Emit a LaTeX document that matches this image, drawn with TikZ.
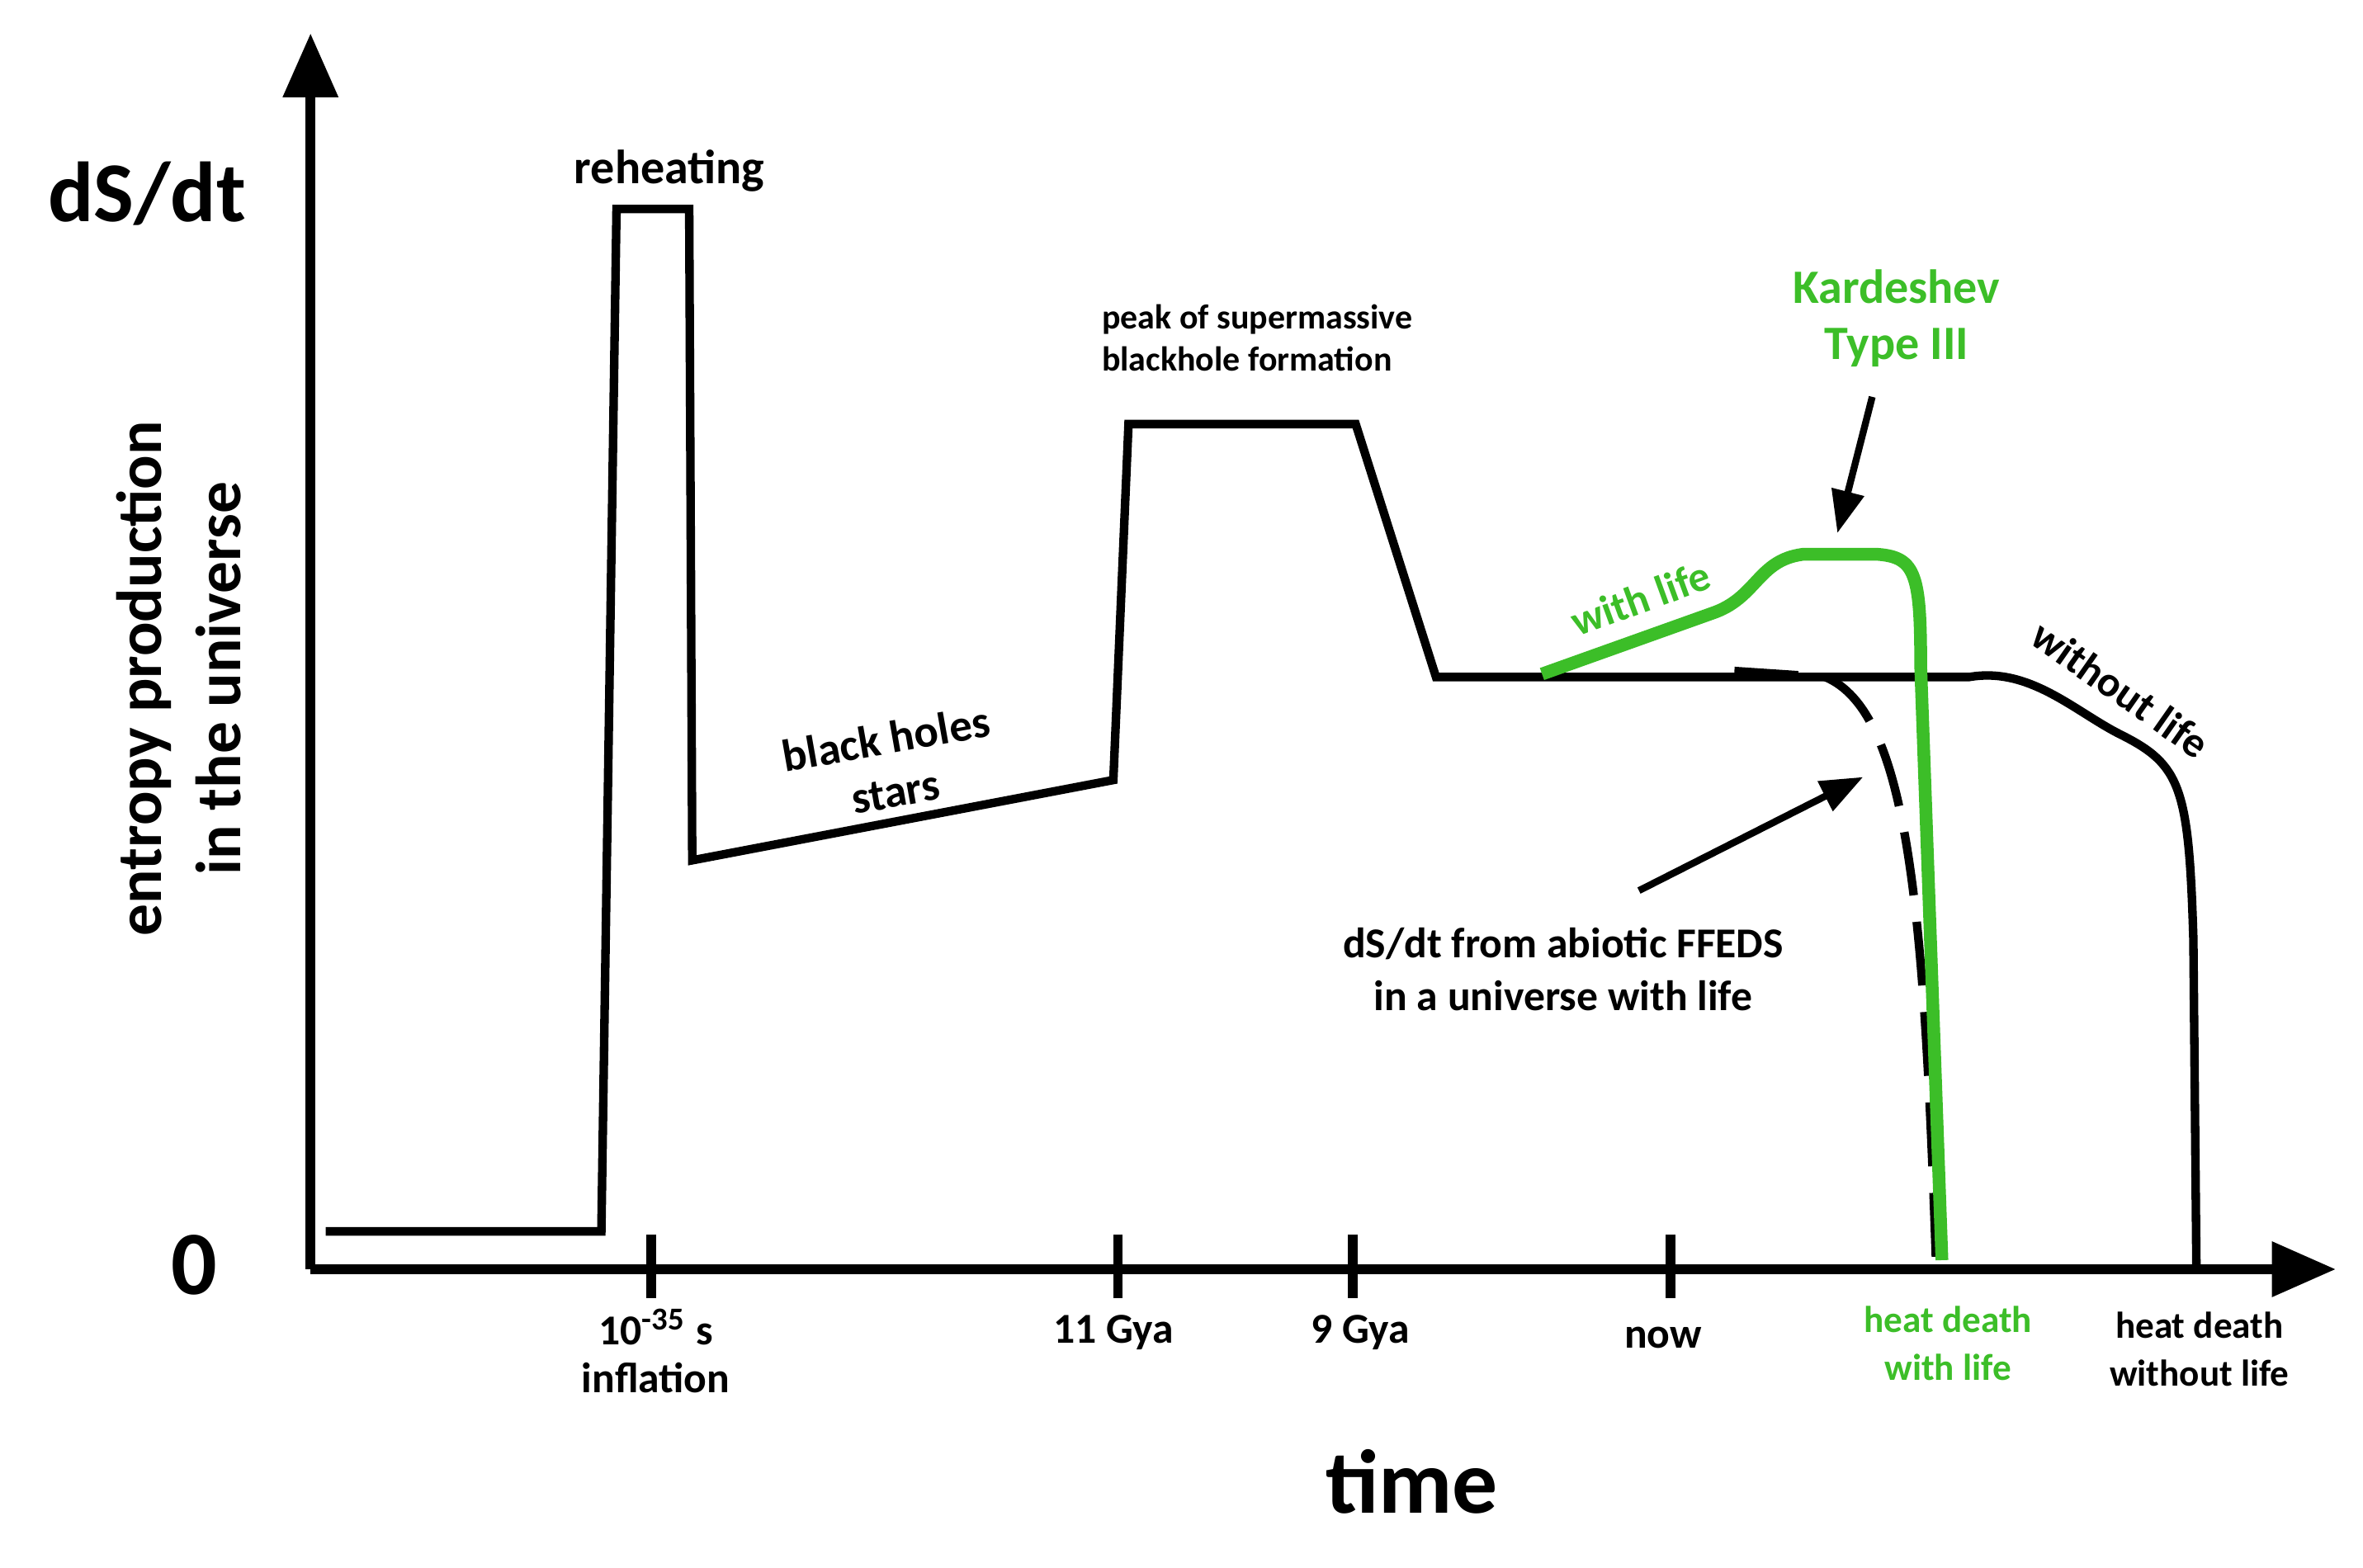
\documentclass[tikz,border=0pt]{standalone}
\usepackage{fontspec}
\setmainfont{Carlito}
\usetikzlibrary{arrows.meta}
\definecolor{lifegreen}{RGB}{60,190,40}
\begin{document}
\begin{tikzpicture}[x=0.01cm,y=-0.01cm,
  curve/.style={line width=1.6pt,line join=miter},
  axis/.style={line width=1.8pt,-{Triangle[length=12pt,width=10pt]}},
  lbl/.style={font=\bfseries\fontsize{8}{9.5}\selectfont,align=center},
  small/.style={font=\bfseries\fontsize{6.5}{8}\selectfont,align=left},
  ptr/.style={line width=1.3pt,-{Triangle[length=8pt,width=6pt]}}]
\useasboundingbox (0,0) rectangle (1560,1035);
% axes
\coordinate (O) at (205,838);
\coordinate (Ytop) at (205,22);
\coordinate (Xend) at (1542,838);
\draw[axis] (O) -- (Ytop);
\draw[axis] (O) -- (Xend);
% ticks
\foreach \x/\n in {430/t1,738/t2,893/t3,1103/t4}{
  \draw[line width=1.8pt] (\x,815) -- (\x,857);}
% black curve
\draw[curve] (215,813) -- (397,813) -- (407,138) -- (455,138) -- (457,568) -- (735,515) -- (745,280) -- (895,280) -- (948,447) -- (1300,447)
  .. controls (1340,440) and (1370,470) .. (1400,485) .. controls (1440,505) and (1445,520) .. (1448,620) -- (1450,835);
% dashed
\draw[curve,dashed,dash pattern=on 12pt off 5pt] (1145,443) -- (1205,447) .. controls (1260,470) and (1270,600) .. (1278,830);
% green
\draw[curve,lifegreen,line width=2.4pt] (1018,445) -- (1130,405) .. controls (1160,395) and (1160,370) .. (1190,366) -- (1240,366)
  .. controls (1265,368) and (1268,380) .. (1268,440) -- (1282,832);
% arrows
\coordinate (a1) at (1236,262); \coordinate (a1e) at (1213,352);
\draw[ptr] (a1) -- (a1e);
\coordinate (a2) at (1082,588); \coordinate (a2e) at (1230,513);
\draw[ptr] (a2) -- (a2e);
% labels
\node[font=\bfseries\fontsize{16}{20}\selectfont] (dsdt) at (97,128) {dS/dt};
\node[font=\bfseries\fontsize{17}{20}\selectfont] (zero) at (128,835) {0};
\node[font=\bfseries\fontsize{17}{20}\selectfont] (time) at (932,978) {time};
\node[font=\bfseries\fontsize{12}{15}\selectfont,rotate=90,align=center] (ylab) at (118,448) {entropy production\\in the universe};
\node[lbl,font=\bfseries\fontsize{9}{10}\selectfont] (reh) at (442,113) {reheating};
\node[small] (peak) at (830,223) {peak of supermassive\\blackhole formation};
\node[lbl,font=\bfseries\fontsize{8.5}{10}\selectfont,rotate=10] (bh) at (588,505) {black holes\\stars};
\node[lbl,lifegreen,font=\bfseries\fontsize{9}{10.5}\selectfont] (kard) at (1252,210) {Kardeshev\\Type III};
\node[lbl,lifegreen,rotate=20] (wl) at (1083,395) {with life};
\node[lbl,rotate=-35] (wol) at (1400,455) {without life};
\node[lbl,font=\bfseries\fontsize{8}{10}\selectfont] (abio) at (1032,640) {dS/dt from abiotic FFEDS\\in a universe with life};
\node[lbl,font=\bfseries\fontsize{8}{9}\selectfont] (l1) at (433,892) {10\textsuperscript{-35} s\\inflation};
\node[lbl] (l2) at (735,880) {11 Gya};
\node[lbl] (l3) at (898,880) {9 Gya};
\node[lbl] (l4) at (1098,883) {now};
\node[lbl,lifegreen,font=\bfseries\fontsize{7}{9}\selectfont] (l5) at (1286,887) {heat death\\with life};
\node[lbl,font=\bfseries\fontsize{7}{9}\selectfont] (l6) at (1452,891) {heat death\\without life};
\end{tikzpicture}
\end{document}
